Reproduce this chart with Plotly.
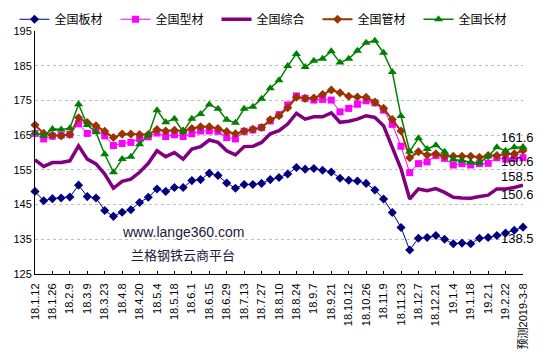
import plotly.graph_objects as go

dates = ["18.1.12", "18.1.19", "18.1.26", "18.2.2", "18.2.9", "18.3.2", "18.3.9", "18.3.16",
         "18.3.23", "18.3.30", "18.4.8", "18.4.13", "18.4.20", "18.4.27", "18.5.4", "18.5.11",
         "18.5.18", "18.5.25", "18.6.1", "18.6.8", "18.6.15", "18.6.22", "18.6.29", "18.7.6",
         "18.7.13", "18.7.20", "18.7.27", "18.8.3", "18.8.10", "18.8.17", "18.8.24", "18.8.31",
         "18.9.7", "18.9.14", "18.9.21", "18.9.28", "18.10.12", "18.10.19", "18.10.26", "18.11.2",
         "18.11.9", "18.11.16", "18.11.23", "18.11.30", "18.12.7", "18.12.14", "18.12.21", "18.12.28",
         "19.1.4", "19.1.11", "19.1.18", "19.1.25", "19.2.1", "19.2.15", "19.2.22", "19.3.1",
         "预测2019-3-8"]

plate = [148.8, 146.1, 146.7, 146.9, 147.2, 150.6, 147.3, 146.9, 143.3, 141.6, 142.8, 143.5,
         145.6, 147.1, 149.5, 148.8, 149.9, 149.9, 151.9, 152.2, 154.0, 153.4, 151.2, 149.7,
         150.8, 150.8, 151.1, 152.2, 152.8, 153.8, 155.7, 155.2, 155.4, 154.9, 154.4, 152.6,
         152.0, 151.8, 151.1, 149.2, 146.6, 142.7, 138.4, 131.9, 135.3, 135.5, 136.1, 135.0,
         133.7, 133.9, 133.7, 135.3, 135.5, 136.1, 136.8, 137.6, 138.5]

section = [165.5, 163.9, 164.7, 165.0, 165.2, 168.3, 165.5, 166.4, 164.8, 162.0, 162.6, 162.9,
           164.0, 164.5, 165.6, 164.6, 165.1, 164.6, 165.4, 166.2, 166.2, 166.1, 164.3, 163.9,
           166.1, 166.5, 167.2, 169.1, 170.9, 173.7, 176.3, 175.6, 175.1, 175.3, 175.1, 171.7,
           172.7, 173.9, 174.9, 174.3, 172.2, 168.1, 161.8, 154.2, 156.8, 157.3, 159.1, 158.3,
           156.4, 156.8, 156.4, 156.8, 156.9, 158.5, 158.1, 158.3, 158.5]

composite = [157.9, 156.0, 157.1, 157.1, 157.6, 161.9, 158.1, 156.7, 153.8, 149.7, 151.7, 152.3,
             154.3, 156.9, 160.5, 158.8, 160.0, 158.1, 161.0, 161.7, 163.6, 162.9, 160.5, 159.3,
             161.7, 161.8, 162.9, 165.4, 166.3, 168.2, 171.3, 169.6, 170.3, 170.3, 171.4, 168.7,
             169.0, 169.6, 170.6, 170.1, 167.7, 161.8, 155.3, 146.6, 149.5, 149.0, 149.6, 148.5,
             147.1, 146.9, 146.8, 147.3, 147.7, 149.5, 149.5, 149.9, 150.6]

pipe = [167.9, 165.5, 165.0, 164.8, 165.2, 170.0, 168.6, 167.7, 166.1, 164.3, 165.3, 165.3,
        165.2, 165.2, 166.6, 166.2, 166.4, 166.2, 166.9, 167.4, 167.4, 166.9, 166.0, 165.4,
        166.1, 166.7, 167.2, 169.4, 170.6, 172.9, 175.9, 175.6, 175.7, 176.7, 178.0, 177.2,
        176.2, 176.0, 175.9, 174.5, 172.7, 169.5, 166.2, 158.5, 160.2, 159.3, 159.6, 158.9,
        158.9, 158.9, 158.9, 158.6, 159.1, 159.1, 159.6, 159.6, 160.6]

long_prod = [165.7, 164.8, 166.8, 166.6, 167.0, 173.9, 167.9, 165.8, 159.5, 154.3, 158.1, 158.8,
             162.4, 165.0, 172.2, 168.7, 169.7, 166.0, 169.7, 171.1, 173.8, 172.6, 169.4, 168.6,
             172.6, 173.2, 175.5, 178.5, 180.8, 184.9, 188.4, 184.6, 186.4, 187.0, 189.2, 185.9,
             187.0, 189.3, 191.6, 192.2, 188.7, 183.2, 170.5, 160.3, 164.1, 161.0, 162.1, 160.2,
             158.0, 157.7, 157.2, 157.0, 158.9, 161.5, 160.5, 161.5, 161.6]

names = ["全国板材", "全国型材", "全国综合", "全国管材", "全国长材"]
tick_labels = dates[::2]
y_ticks = [125, 135, 145, 155, 165, 175, 185, 195]

FONT = "Liberation Sans, Noto Sans CJK SC, sans-serif"
CJK = "Noto Sans CJK SC, sans-serif"

fig = go.Figure()
series = [
    (plate, names[0], "#000080", 1, dict(symbol="diamond", size=7)),
    (section, names[1], "#FF00FF", 1, dict(symbol="square", size=7)),
    (composite, names[2], "#800080", 3.5, None),
    (pipe, names[3], "#993300", 2, dict(symbol="diamond", size=7)),
    (long_prod, names[4], "#008000", 1.5, dict(symbol="triangle-up", size=8)),
]
for vals, nm, col, w, mk in series:
    if mk is None:
        fig.add_trace(go.Scatter(x=dates, y=vals, name=nm, mode="lines",
                                 line=dict(color=col, width=w), cliponaxis=False))
    else:
        fig.add_trace(go.Scatter(x=dates, y=vals, name=nm, mode="lines+markers",
                                 line=dict(color=col, width=w),
                                 marker=dict(color=col, line=dict(width=0), **mk),
                                 cliponaxis=False))

# end-value labels (vertical offsets in pixels)
label_shift = [-11, -19, -9, -11, 9]
for (vals, nm, col, w, mk), ys in zip(series, label_shift):
    fig.add_annotation(x=dates[-1], y=vals[-1], text=f"{vals[-1]:.1f}", showarrow=False,
                       xanchor="right", xshift=13, yshift=ys,
                       font=dict(family=FONT, size=13, color="#000000"))

fig.add_annotation(x=0.303, y=0.173, xref="paper", yref="paper", text="www.lange360.com",
                   xanchor="center", yanchor="middle", showarrow=False,
                   font=dict(family=FONT, size=14, color="#1a1a40"))
fig.add_annotation(x=0.303, y=0.082, xref="paper", yref="paper", text="兰格钢铁云商平台",
                   xanchor="center", yanchor="middle", showarrow=False,
                   font=dict(family=CJK, size=13, color="#1a1a40"))

# page body has an 8px margin, so the figure is sized/offset to compensate
fig.update_layout(
    width=535, height=353,
    margin=dict(l=27, r=20, t=23, b=87, autoexpand=False),
    paper_bgcolor="white", plot_bgcolor="white",
    font=dict(family=FONT, size=11, color="#000000"),
    showlegend=True,
    legend=dict(orientation="h", xref="paper", yref="paper", x=-0.042, y=1.108,
                xanchor="left", yanchor="top", entrywidth=56, entrywidthmode="pixels",
                itemwidth=30, font=dict(family=CJK, size=12, color="#000000"),
                bgcolor="rgba(0,0,0,0)", tracegroupgap=0),
    xaxis=dict(type="category", range=[0, len(dates) - 1], tickmode="array",
               tickvals=tick_labels, ticktext=tick_labels, tickangle=-90,
               showline=True, linecolor="#000000", linewidth=1,
               ticks="inside", ticklen=3, tickcolor="#000000", ticklabelstandoff=4,
               showgrid=False, zeroline=False, automargin=False,
               tickfont=dict(family=FONT, size=11, color="#000000")),
    yaxis=dict(range=[125, 195], tickmode="array", tickvals=y_ticks,
               showline=True, linecolor="#000000", linewidth=1,
               showgrid=True, gridcolor="#C0C0C0", griddash="dot", gridwidth=1,
               zeroline=False, ticks="", automargin=False,
               tickfont=dict(family=FONT, size=11, color="#000000")),
)

fig.write_html("out.html")
